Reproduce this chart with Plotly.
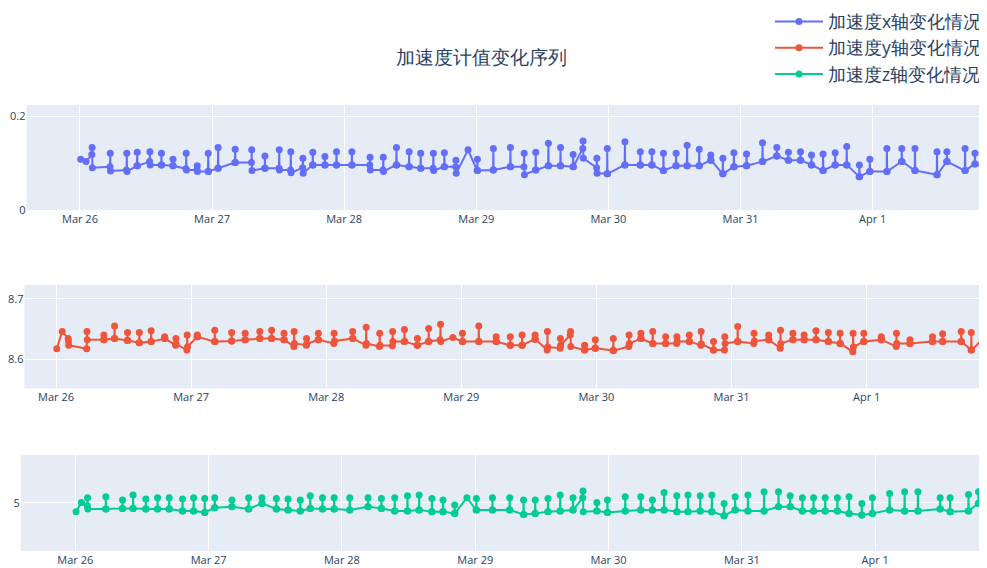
import plotly.graph_objects as go

TITLE = "加速度计值变化序列"
SERIES_NAMES = ["加速度x轴变化情况", "加速度y轴变化情况", "加速度z轴变化情况"]

TIMES = [
    "2023-03-26 00:08", "2023-03-26 01:06",
    "2023-03-26 02:09", "2023-03-26 02:12", "2023-03-26 02:15",
    "2023-03-26 05:27", "2023-03-26 05:30", "2023-03-26 05:33",
    "2023-03-26 08:27", "2023-03-26 08:30", "2023-03-26 08:33",
    "2023-03-26 10:21", "2023-03-26 10:24", "2023-03-26 10:27",
    "2023-03-26 12:39", "2023-03-26 12:42", "2023-03-26 12:45",
    "2023-03-26 14:45", "2023-03-26 14:48", "2023-03-26 14:51",
    "2023-03-26 16:51", "2023-03-26 16:54", "2023-03-26 16:57",
    "2023-03-26 19:15", "2023-03-26 19:18", "2023-03-26 19:21",
    "2023-03-26 21:15", "2023-03-26 21:18", "2023-03-26 21:21",
    "2023-03-26 23:15", "2023-03-26 23:18", "2023-03-26 23:21",
    "2023-03-27 01:03", "2023-03-27 01:06", "2023-03-27 01:09",
    "2023-03-27 04:09", "2023-03-27 04:12", "2023-03-27 04:15",
    "2023-03-27 07:09", "2023-03-27 07:12", "2023-03-27 07:15",
    "2023-03-27 09:33", "2023-03-27 09:36", "2023-03-27 09:39",
    "2023-03-27 12:09", "2023-03-27 12:12", "2023-03-27 12:15",
    "2023-03-27 14:15", "2023-03-27 14:18", "2023-03-27 14:21",
    "2023-03-27 16:27", "2023-03-27 16:30", "2023-03-27 16:33",
    "2023-03-27 18:15", "2023-03-27 18:18", "2023-03-27 18:21",
    "2023-03-27 20:27", "2023-03-27 20:30", "2023-03-27 20:33",
    "2023-03-27 22:33", "2023-03-27 22:36", "2023-03-27 22:39",
    "2023-03-28 01:21", "2023-03-28 01:24", "2023-03-28 01:27",
    "2023-03-28 04:39", "2023-03-28 04:42", "2023-03-28 04:45",
    "2023-03-28 07:03", "2023-03-28 07:06", "2023-03-28 07:09",
    "2023-03-28 09:27", "2023-03-28 09:30", "2023-03-28 09:33",
    "2023-03-28 11:45", "2023-03-28 11:48", "2023-03-28 11:51",
    "2023-03-28 13:51", "2023-03-28 13:54", "2023-03-28 13:57",
    "2023-03-28 16:09", "2023-03-28 16:12", "2023-03-28 16:15",
    "2023-03-28 18:09", "2023-03-28 18:12", "2023-03-28 18:15",
    "2023-03-28 20:15", "2023-03-28 20:18", "2023-03-28 20:21",
    "2023-03-28 22:30",
    "2023-03-29 00:09", "2023-03-29 00:12", "2023-03-29 00:15",
    "2023-03-29 03:03", "2023-03-29 03:06", "2023-03-29 03:09",
    "2023-03-29 06:09", "2023-03-29 06:12", "2023-03-29 06:15",
    "2023-03-29 08:39", "2023-03-29 08:42", "2023-03-29 08:45",
    "2023-03-29 10:45", "2023-03-29 10:48", "2023-03-29 10:51",
    "2023-03-29 13:03", "2023-03-29 13:06", "2023-03-29 13:09",
    "2023-03-29 15:15", "2023-03-29 15:18", "2023-03-29 15:21",
    "2023-03-29 17:33", "2023-03-29 17:36", "2023-03-29 17:39",
    "2023-03-29 19:21", "2023-03-29 19:24", "2023-03-29 19:27",
    "2023-03-29 21:51", "2023-03-29 21:54", "2023-03-29 21:57",
    "2023-03-29 23:45", "2023-03-29 23:48", "2023-03-29 23:51",
    "2023-03-30 02:57", "2023-03-30 03:00", "2023-03-30 03:03",
    "2023-03-30 05:45", "2023-03-30 05:48", "2023-03-30 05:51",
    "2023-03-30 07:51", "2023-03-30 07:54", "2023-03-30 07:57",
    "2023-03-30 09:57", "2023-03-30 10:00", "2023-03-30 10:03",
    "2023-03-30 12:15", "2023-03-30 12:18", "2023-03-30 12:21",
    "2023-03-30 14:15", "2023-03-30 14:18", "2023-03-30 14:21",
    "2023-03-30 16:27", "2023-03-30 16:30", "2023-03-30 16:33",
    "2023-03-30 18:33", "2023-03-30 18:36", "2023-03-30 18:39",
    "2023-03-30 20:45", "2023-03-30 20:48", "2023-03-30 20:51",
    "2023-03-30 22:45", "2023-03-30 22:48", "2023-03-30 22:51",
    "2023-03-31 01:03", "2023-03-31 01:06", "2023-03-31 01:09",
    "2023-03-31 03:57", "2023-03-31 04:00", "2023-03-31 04:03",
    "2023-03-31 06:33", "2023-03-31 06:36", "2023-03-31 06:39",
    "2023-03-31 08:39", "2023-03-31 08:42", "2023-03-31 08:45",
    "2023-03-31 10:51", "2023-03-31 10:54", "2023-03-31 10:57",
    "2023-03-31 12:51", "2023-03-31 12:54", "2023-03-31 12:57",
    "2023-03-31 14:57", "2023-03-31 15:00", "2023-03-31 15:03",
    "2023-03-31 17:09", "2023-03-31 17:12", "2023-03-31 17:15",
    "2023-03-31 19:15", "2023-03-31 19:18", "2023-03-31 19:21",
    "2023-03-31 21:33", "2023-03-31 21:36", "2023-03-31 21:39",
    "2023-03-31 23:27", "2023-03-31 23:30", "2023-03-31 23:33",
    "2023-04-01 02:33", "2023-04-01 02:36", "2023-04-01 02:39",
    "2023-04-01 05:15", "2023-04-01 05:18", "2023-04-01 05:21",
    "2023-04-01 07:39", "2023-04-01 07:42", "2023-04-01 07:45",
    "2023-04-01 11:39", "2023-04-01 11:42", "2023-04-01 11:45",
    "2023-04-01 13:27", "2023-04-01 13:30", "2023-04-01 13:33",
    "2023-04-01 16:45", "2023-04-01 16:48", "2023-04-01 16:51",
    "2023-04-01 18:33", "2023-04-01 18:36", "2023-04-01 18:39",
    "2023-04-01 22:00",
]

ACC_X = [
    0.108, 0.103,
    0.118, 0.133, 0.090,  0.092, 0.121, 0.083,  0.085, 0.121, 0.082,
    0.094, 0.123, 0.094,  0.103, 0.124, 0.096,  0.096, 0.121, 0.096,
    0.094, 0.108, 0.094,  0.088, 0.121, 0.085,  0.085, 0.094, 0.082,
    0.082, 0.121, 0.082,
    0.089, 0.133, 0.089,  0.101, 0.129, 0.101,  0.101, 0.128, 0.084,
    0.089, 0.115, 0.089,  0.089, 0.128, 0.085,  0.085, 0.124, 0.079,
    0.090, 0.110, 0.078,  0.096, 0.123, 0.096,  0.096, 0.114, 0.096,
    0.096, 0.124, 0.096,
    0.096, 0.124, 0.096,  0.096, 0.112, 0.085,  0.085, 0.112, 0.082,
    0.096, 0.133, 0.096,  0.092, 0.124, 0.092,  0.089, 0.121, 0.089,
    0.089, 0.121, 0.084,  0.092, 0.122, 0.092,  0.092, 0.106, 0.078,
    0.128,
    0.084, 0.108, 0.084,  0.085, 0.131, 0.085,  0.092, 0.133, 0.092,
    0.092, 0.121, 0.075,  0.085, 0.123, 0.085,  0.094, 0.142, 0.094,
    0.094, 0.133, 0.094,  0.092, 0.118, 0.092,  0.131, 0.147, 0.110,
    0.090, 0.110, 0.078,  0.077, 0.131, 0.077,
    0.096, 0.145, 0.096,  0.096, 0.124, 0.096,  0.096, 0.124, 0.096,
    0.084, 0.121, 0.084,  0.094, 0.121, 0.094,  0.094, 0.138, 0.094,
    0.094, 0.129, 0.094,  0.106, 0.117, 0.106,  0.077, 0.110, 0.077,
    0.092, 0.122, 0.092,
    0.094, 0.119, 0.094,  0.103, 0.143, 0.103,  0.115, 0.133, 0.115,
    0.106, 0.123, 0.106,  0.106, 0.124, 0.106,  0.096, 0.117, 0.096,
    0.084, 0.119, 0.084,  0.096, 0.122, 0.096,  0.096, 0.135, 0.096,
    0.071, 0.096, 0.071,  0.082, 0.108, 0.082,
    0.082, 0.131, 0.082,  0.103, 0.131, 0.103,  0.084, 0.131, 0.084,
    0.075, 0.124, 0.075,  0.103, 0.124, 0.103,  0.084, 0.131, 0.084,
    0.098, 0.121, 0.098,
    0.085,
]

ACC_Y = [
    8.617, 8.646,
    8.634, 8.630, 8.623,  8.617, 8.646, 8.632,  8.632, 8.640, 8.632,
    8.634, 8.655, 8.634,  8.631, 8.644, 8.631,  8.627, 8.644, 8.627,
    8.629, 8.647, 8.629,  8.634, 8.637, 8.634,  8.623, 8.634, 8.625,
    8.615, 8.640, 8.620,
    8.637, 8.640, 8.637,  8.629, 8.648, 8.629,  8.630, 8.644, 8.630,
    8.632, 8.643, 8.632,  8.634, 8.646, 8.634,  8.634, 8.648, 8.634,
    8.632, 8.643, 8.632,  8.621, 8.646, 8.626,  8.623, 8.634, 8.625,
    8.632, 8.643, 8.632,
    8.626, 8.643, 8.630,  8.634, 8.646, 8.634,  8.623, 8.653, 8.626,
    8.621, 8.643, 8.623,  8.622, 8.646, 8.629,  8.629, 8.649, 8.629,
    8.623, 8.634, 8.623,  8.629, 8.651, 8.629,  8.632, 8.658, 8.629,
    8.636,
    8.629, 8.643, 8.629,  8.629, 8.655, 8.629,  8.629, 8.637, 8.629,
    8.623, 8.637, 8.623,  8.623, 8.640, 8.623,  8.633, 8.640, 8.633,
    8.615, 8.646, 8.620,  8.618, 8.634, 8.623,  8.640, 8.646, 8.621,
    8.615, 8.623, 8.615,  8.618, 8.632, 8.618,
    8.614, 8.634, 8.614,  8.621, 8.640, 8.626,  8.634, 8.643, 8.634,
    8.626, 8.646, 8.626,  8.626, 8.637, 8.626,  8.626, 8.637, 8.629,
    8.629, 8.640, 8.629,  8.623, 8.646, 8.625,  8.615, 8.629, 8.615,
    8.615, 8.637, 8.626,
    8.629, 8.654, 8.629,  8.626, 8.643, 8.630,  8.632, 8.640, 8.632,
    8.618, 8.648, 8.626,  8.632, 8.643, 8.632,  8.632, 8.640, 8.632,
    8.632, 8.647, 8.632,  8.629, 8.644, 8.629,  8.626, 8.643, 8.626,
    8.612, 8.643, 8.620,  8.629, 8.643, 8.629,
    8.632, 8.637, 8.632,  8.621, 8.643, 8.626,  8.626, 8.632, 8.626,
    8.629, 8.637, 8.629,  8.629, 8.642, 8.629,  8.629, 8.646, 8.629,
    8.615, 8.644, 8.615,
    8.645,
]

ACC_Z = [
    4.910, 5.003,
    4.970, 5.050, 4.937,  4.937, 5.060, 4.937,  4.943, 5.027, 4.943,
    4.943, 5.077, 4.943,  4.937, 5.037, 4.937,  4.937, 5.050, 4.937,
    4.937, 5.050, 4.937,  4.917, 5.037, 4.917,  4.917, 5.050, 4.917,
    4.903, 5.043, 4.903,
    4.950, 5.050, 4.950,  4.960, 5.027, 4.960,  4.937, 5.050, 4.937,
    4.993, 5.050, 4.993,  4.937, 5.043, 4.937,  4.927, 5.037, 4.927,
    4.917, 5.027, 4.917,  4.943, 5.070, 4.943,  4.937, 5.050, 4.937,
    4.937, 5.050, 4.937,
    4.927, 5.050, 4.927,  4.960, 5.050, 4.960,  4.943, 5.043, 4.943,
    4.917, 5.050, 4.917,  4.917, 5.070, 4.917,  4.927, 5.077, 4.927,
    4.910, 5.043, 4.910,  4.910, 5.027, 4.910,  4.893, 4.977, 4.893,
    5.050,
    4.927, 5.043, 4.927,  4.927, 5.050, 4.927,  4.927, 5.050, 4.927,
    4.883, 5.027, 4.883,  4.893, 5.027, 4.893,  4.910, 5.043, 4.910,
    4.917, 5.077, 4.917,  4.927, 5.050, 4.927,  5.050, 5.117, 4.910,
    4.917, 5.003, 4.917,  4.903, 5.027, 4.903,
    4.917, 5.060, 4.917,  4.927, 5.060, 4.927,  4.927, 5.027, 4.927,
    4.927, 5.103, 4.927,  4.910, 5.070, 4.910,  4.910, 5.077, 4.910,
    4.917, 5.070, 4.917,  4.910, 5.077, 4.910,  4.870, 4.993, 4.870,
    4.927, 5.060, 4.927,
    4.917, 5.077, 4.917,  4.917, 5.110, 4.917,  4.960, 5.110, 4.960,
    4.960, 5.070, 4.960,  4.917, 5.050, 4.917,  4.917, 5.050, 4.917,
    4.917, 5.050, 4.917,  4.917, 5.050, 4.917,  4.893, 5.060, 4.893,
    4.877, 4.993, 4.877,  4.893, 5.050, 4.893,
    4.927, 5.093, 4.927,  4.917, 5.110, 4.917,  4.917, 5.110, 4.917,
    4.937, 5.050, 4.937,  4.910, 5.050, 4.910,  4.917, 5.083, 4.917,
    4.993, 5.110, 4.993,
    5.000,
]

Y_TICKS = [[0, 0.2], [8.6, 8.7], [5]]

COLORS = ["#636efa", "#EF553B", "#00cc96"]
W, H = 979, 560   # the page body adds an 8px offset

fig = go.Figure()
for i, (vals, name) in enumerate(zip([ACC_X, ACC_Y, ACC_Z], SERIES_NAMES)):
    suffix = "" if i == 0 else str(i + 1)
    fig.add_trace(go.Scatter(
        x=TIMES, y=vals, name=name, mode="lines+markers",
        xaxis="x" + suffix, yaxis="y" + suffix, legendgroup=str(i),
        line=dict(color=COLORS[i], width=2),
        marker=dict(color=COLORS[i], size=7),
    ))

# panel geometry in figure pixels (left edge, top, bottom)
panels = [
    dict(left=18.5, top=97, bottom=202,
         xr=["2023-03-25 14:17", "2023-04-01 20:47"], yr=[0, 0.2234]),
    dict(left=16.5, top=277, bottom=380.3,
         xr=["2023-03-25 18:24", "2023-04-01 21:23"], yr=[8.5512, 8.7233]),
    dict(left=12.7, top=447, bottom=543,
         xr=["2023-03-25 14:10", "2023-04-01 20:08"], yr=[4.517, 5.477]),
]

layout = dict(
    width=W, height=H,
    margin=dict(l=0, r=0, t=0, b=0, autoexpand=False),
    template="plotly",
    title=dict(text=TITLE, x=473 / W, xanchor="center", y=1 - 50 / H,
               yanchor="middle", yref="container", font=dict(size=18.5)),
    legend=dict(x=762 / W, xanchor="left", y=1 + 4.5 / H, yanchor="top",
                font=dict(size=17.5), itemwidth=48, tracegroupgap=0.5,
                bgcolor="rgba(0,0,0,0)"),
)
for i, p in enumerate(panels):
    suffix = "" if i == 0 else str(i + 1)
    layout["xaxis" + suffix] = dict(
        domain=[p["left"] / W, 1], anchor="y" + suffix, type="date",
        range=p["xr"], tick0="2023-03-26", dtick=86400000,
        tickformat="%b %-d", tickfont=dict(size=11), automargin=False,
        showgrid=True, ticklabelstandoff=1,
    )
    layout["yaxis" + suffix] = dict(
        domain=[1 - p["bottom"] / H, 1 - p["top"] / H], anchor="x" + suffix,
        range=p["yr"], tickmode="array", tickvals=Y_TICKS[i],
        tickfont=dict(size=11), automargin=False, zeroline=False,
    )

fig.update_layout(**layout)
fig.write_html("out.html")
